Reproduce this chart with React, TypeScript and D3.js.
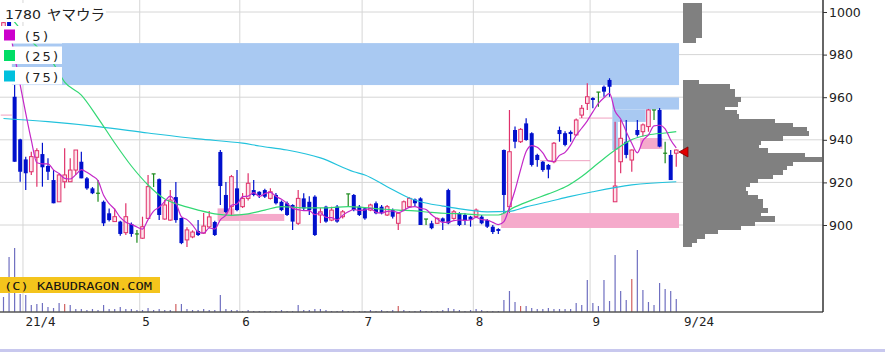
import React, { useEffect, useRef } from "react";
import * as d3 from "d3";

// trading days, 2021/3/26 - 2021/9/24
const dates = [
  "3/26", "3/29", "3/30", "3/31",
  "4/1", "4/2", "4/5", "4/6", "4/7", "4/8", "4/9", "4/12", "4/13", "4/14", "4/15", "4/16", "4/19", "4/20", "4/21", "4/22", "4/23", "4/26", "4/27", "4/28", "4/30",
  "5/6", "5/7", "5/10", "5/11", "5/12", "5/13", "5/14", "5/17", "5/18", "5/19", "5/20", "5/21", "5/24", "5/25", "5/26", "5/27", "5/28", "5/31",
  "6/1", "6/2", "6/3", "6/4", "6/7", "6/8", "6/9", "6/10", "6/11", "6/14", "6/15", "6/16", "6/17", "6/18", "6/21", "6/22", "6/23", "6/24", "6/25", "6/28", "6/29", "6/30",
  "7/1", "7/2", "7/5", "7/6", "7/7", "7/8", "7/9", "7/12", "7/13", "7/14", "7/15", "7/16", "7/19", "7/20", "7/21", "7/26", "7/27", "7/28", "7/29", "7/30",
  "8/2", "8/3", "8/4", "8/5", "8/6", "8/10", "8/11", "8/12", "8/13", "8/16", "8/17", "8/18", "8/19", "8/20", "8/23", "8/24", "8/25", "8/26", "8/27", "8/30", "8/31",
  "9/1", "9/2", "9/3", "9/6", "9/7", "9/8", "9/9", "9/10", "9/13", "9/14", "9/15", "9/16", "9/17", "9/21", "9/22", "9/24",
];

// open, high, low, close
const ohlc: [number, number, number, number][] = [
  [993, 996, 992, 995], [1001, 1004, 985.5, 988], [960.2, 965.7, 929.7, 929.7], [940.2, 940.5, 920.3, 925],
  [930.8, 932.1, 916.4, 924.3], [925, 934.4, 923.5, 932.1], [931.8, 936, 918, 934.9], [933.3, 938.6, 918, 927.1],
  [927.7, 931.3, 921.1, 925], [921.1, 925.8, 910.2, 910.2], [910.9, 924, 910.9, 923.5], [920.3, 936, 917.2, 923.5],
  [920.3, 931.3, 920.3, 925.8], [925.8, 935.2, 923.5, 935.2], [929.7, 934.4, 921.9, 921.9], [921.9, 922.5, 916.5, 917.2],
  [917.2, 917.8, 914.5, 914.9], [914.9, 921.1, 910.9, 914.9], [910.9, 911.5, 899.5, 900.8], [905.5, 907.8, 901.6, 902.3],
  [901.6, 907.8, 901.6, 903.9], [901.6, 902, 895, 895.8], [896.4, 910.2, 895.3, 903.9], [900.5, 901.2, 894.5, 895.8],
  [895.8, 897.7, 891.7, 895.8],
  [893.8, 903.9, 893.5, 899.2], [903.1, 923.5, 903.1, 918], [924, 924, 917.8, 924], [921.5, 921.8, 902.3, 904.7],
  [902.8, 911.7, 902.5, 909.4], [902.3, 916.4, 902, 911.7], [913.1, 920.2, 901, 902.3], [903.3, 903.5, 891, 891.5],
  [893, 899, 889.7, 897.7], [894.4, 897.5, 893.8, 896.7], [897.2, 902.3, 894.8, 895.3], [896.2, 905.6, 895.8, 899.5],
  [899.1, 906.6, 898.6, 903.8], [901.4, 902, 894.8, 895.3], [934.3, 935.2, 909.4, 918.3], [914.1, 920.2, 905.5, 906.1],
  [908.6, 923.5, 904.2, 922.7], [917.2, 925.8, 906.5, 907],
  [908.6, 915, 908, 912.5], [912.5, 924.3, 911.5, 919.6], [916.4, 921.1, 913.5, 914.1], [915.6, 915.8, 912.7, 914.1],
  [916.4, 917, 912.7, 913.3], [912.5, 917.2, 912, 915.6], [914.1, 915, 909.6, 910.2], [910.9, 911.5, 906.5, 907],
  [910.2, 911, 904.2, 904.7], [909.4, 909.8, 897.7, 901.6], [900.8, 916.4, 900, 912.5], [912.5, 914.9, 907, 907.8],
  [910.9, 913.5, 904.7, 907], [913.3, 914, 894.8, 895.3], [904.7, 908, 900.9, 906.2], [908.6, 909, 901, 901.6],
  [902.3, 908.6, 901.8, 907], [908.6, 909.4, 901, 901.6], [903.9, 907, 903, 906.2], [914.6, 914.6, 908.6, 914.6],
  [914.1, 914.6, 906.5, 907], [908.6, 909.4, 904.2, 904.7],
  [907.8, 908.5, 902.5, 903.1], [907, 910, 906.5, 909.4], [910.2, 911, 905, 905.5], [908.6, 909.4, 905, 905.5],
  [904.7, 909.4, 904.2, 908.6], [907, 907.8, 903.1, 903.9], [900.8, 906, 897.7, 905.5], [907, 911.5, 906.5, 910.9],
  [908.6, 913, 908, 912.5], [912, 912.5, 908.9, 910.2], [912.5, 913, 900, 900], [902.8, 902.8, 900, 902.8],
  [900.8, 902, 898, 898.5], [900.8, 903.5, 900.5, 903.1], [903.1, 903.5, 897.7, 901.6], [916.4, 917, 900.4, 900.8],
  [903.1, 907, 902.5, 906.2], [905.5, 906, 899.5, 900], [904.7, 905.5, 900, 902.3], [903.9, 904.3, 899.2, 902.5],
  [903.9, 907.8, 903.5, 907], [903.9, 904.7, 900.4, 900.8], [902.3, 902.8, 898.6, 899.2], [899.2, 900, 895.8, 896.7],
  [898.1, 898.5, 895.8, 897.2], [935.2, 935.5, 905.5, 914.1], [908.6, 954, 905.6, 934.4], [944.6, 946.2, 936, 939.1],
  [939.1, 945.5, 938.5, 944.9], [947.7, 950.1, 939.5, 939.9], [943.1, 943.5, 927.5, 928.2], [932.9, 933.5, 927.4, 930.5],
  [929.7, 930, 925, 925.8], [928.2, 928.6, 921.9, 926], [929.7, 939, 929, 938.4], [944.6, 946.2, 939.1, 942.7],
  [943.1, 944, 937, 937.6], [943.7, 944.4, 939.1, 942.7], [942.3, 950, 941.8, 949.3], [951.6, 956.3, 950.2, 954.8],
  [957.1, 966.5, 954, 960.2],
  [959.6, 960, 954.8, 958.7], [962.4, 962.4, 955.5, 962.4], [964.9, 965.5, 960.2, 962.6], [968.1, 968.9, 960.2, 964.9],
  [910.9, 948.5, 910.9, 918.3], [929.7, 949.3, 924.3, 940.7], [939.1, 949.3, 931.3, 932.9], [930.5, 935.5, 925, 935.2],
  [944.6, 949.3, 941.5, 942.3], [943.8, 947.7, 941.5, 947], [946.2, 954.5, 943.8, 954], [954, 954, 949.3, 954],
  [954, 954.9, 936.5, 936.8], [933.7, 939.1, 929, 933.7], [932.9, 935.2, 921.1, 921.1], [933.7, 935.5, 927.4, 935.2],
];

const volumes = [
  15, 55, 64, 18, 17, 7, 8, 9, 5, 4, 9, 8, 7, 3, 3, 2, 3, 2, 7, 3, 3, 5, 3, 3, 2,
  2, 4, 2, 3, 2, 2, 8, 8, 3, 2, 2, 3, 2, 2, 17, 3, 2, 2,
  1, 2, 1, 1, 1, 1, 1, 2, 1, 1, 7, 2, 2, 3, 3, 2, 1, 1, 2, 1, 1, 1,
  1, 2, 1, 2, 1, 2, 6, 2, 1, 1, 2, 1, 1, 1, 2, 4, 3, 2, 1, 2,
  3, 2, 1, 1, 1, 12, 21, 10, 6, 6, 4, 3, 3, 4, 3, 3, 3, 3, 9, 7, 32,
  9, 6, 32, 11, 57, 21, 12, 33, 62, 22, 10, 7, 29, 23, 21, 13,
];
const redVolumeDays = ["4/12", "5/14", "7/9", "8/13", "9/10"];

const priorCloses = [992, 990, 992, 991];

const ma25: [string, number][] = [
  ["3/26", 1000], ["3/29", 998], ["4/1", 989], ["4/6", 981.2], ["4/8", 975.6], ["4/12", 967.1],
  ["4/15", 961], ["4/20", 950.2], ["4/23", 938.5], ["4/28", 927.7], ["5/7", 918.8], ["5/12", 912.2],
  ["5/17", 909.2], ["5/20", 907], ["5/25", 905.2], ["5/28", 904.5], ["6/2", 905.2], ["6/7", 907],
  ["6/10", 908.6], ["6/15", 908.2], ["6/18", 908], ["6/23", 908.2], ["6/28", 908.6], ["7/1", 908.2],
  ["7/6", 907.5], ["7/9", 907], ["7/14", 906.6], ["7/19", 905.9], ["7/26", 905.4], ["7/29", 905.2],
  ["8/3", 904.7], ["8/6", 904.7], ["8/12", 908.5], ["8/17", 911.7], ["8/20", 914.6], ["8/25", 917.8],
  ["8/30", 922.8], ["9/2", 929.1], ["9/7", 935.2], ["9/10", 940.1], ["9/15", 942.3], ["9/21", 943.2],
  ["9/24", 943.8],
];

const ma75: [string, number][] = [
  ["3/26", 950], ["4/7", 948.5], ["4/20", 946.2], ["5/7", 943.2], ["5/20", 940.4], ["6/1", 938.4],
  ["6/4", 937.1], ["6/11", 935.2], ["6/21", 931.5], ["6/29", 925], ["7/1", 923.5], ["7/7", 918],
  ["7/13", 912.7], ["7/15", 910.9], ["7/21", 908.9], ["7/27", 908], ["8/4", 906.2], ["8/11", 906.4],
  ["8/16", 908.5], ["8/20", 910.9], ["8/26", 913.4], ["9/1", 915.6], ["9/10", 918.8], ["9/24", 920.3],
];

// gap windows
const blueZones = [
  { from: "3/30", to: "9/24", lo: 965.7, hi: 985.4 },
  { from: "9/7", to: "9/24", lo: 954.2, hi: 959.9 },
  { from: "9/7", to: "9/14", lo: 948.4, hi: 954.2 },
  { from: "9/7", to: "9/7", lo: 935.2, hi: 948.4 },
];
const pinkZones = [
  { from: "8/10", to: "9/24", lo: 898.6, hi: 905.6 },
  { from: "9/14", to: "9/17", lo: 935.7, hi: 940.8 },
  { from: "5/26", to: "6/10", lo: 901.9, hi: 905.2 },
  { from: "5/26", to: "5/28", lo: 905.2, hi: 907.8 },
];
const pinkLines = [
  { from: "3/26", to: "3/29", price: 951.6 },
  { from: "8/19", to: "8/31", price: 930.2 },
  { from: "8/30", to: "9/6", price: 950.2 },
];

// price-by-volume, 2 yen bins (lower bound)
const profilePrices = [
  1002, 1000, 998, 996, 994, 992, 990, 988, 986,
  966, 964, 962, 960, 958, 956, 954, 952, 950, 948, 946, 944, 942, 940, 938, 936, 934, 932, 930, 928,
  926, 924, 922, 920, 918, 916, 914, 912, 910, 908, 906, 904, 902, 900, 898, 896, 894, 892, 890,
];
const profileVolumes = [
  19, 19, 19, 19, 19, 19, 19, 19, 13,
  16, 47, 52, 52, 58, 55, 42, 54, 56, 92, 110, 124, 126, 100, 78, 76, 85, 122, 139, 110,
  104, 100, 90, 75, 67, 63, 65, 75, 80, 80, 85, 78, 92, 72, 58, 35, 22, 14, 9,
];

const priceTicks = [900, 920, 940, 960, 980, 1000];
const monthTicks: [string, string][] = [
  ["4/1", "21/4"], ["5/6", "5"], ["6/1", "6"], ["7/1", "7"], ["8/2", "8"], ["9/1", "9"],
];
const lastPrice = 934.3;
const legendItems: [string, string][] = [
  ["(5)", "#cc00cc"], ["(25)", "#00dd66"], ["(75)", "#00c0dd"],
];

const App = () => {
  const ref = useRef<SVGSVGElement>(null);

  useEffect(() => {
    const width = 885;
    const height = 355;
    const plotRight = 823;
    const baseY = 312;

    const svg = d3.select(ref.current);
    svg.selectAll("*").remove();
    svg.attr("width", width).attr("height", height);

    const x = d3.scaleBand().domain(dates).range([0.72, 679.04]);
    const bw = x.bandwidth();
    const cx = (d: string) => (x(d) as number) + bw / 2;
    const y = d3.scaleLinear().domain([900, 1000]).range([225, 12]);
    const yVol = d3.scaleLinear().domain([0, 70]).range([baseY, baseY - 70]);
    const xProf = d3.scaleLinear().domain([0, 140]).range([683, 823]);

    svg.append("rect").attr("width", width).attr("height", height).attr("fill", "#fff");

    // grid
    svg
      .append("g")
      .selectAll("line")
      .data(priceTicks)
      .join("line")
      .attr("x1", 0)
      .attr("x2", plotRight)
      .attr("y1", (d) => y(d))
      .attr("y2", (d) => y(d))
      .attr("stroke", "#d6d6d6");
    svg
      .append("g")
      .selectAll("line")
      .data(monthTicks)
      .join("line")
      .attr("x1", (d) => x(d[0]) as number)
      .attr("x2", (d) => x(d[0]) as number)
      .attr("y1", 0)
      .attr("y2", baseY)
      .attr("stroke", "#d6d6d6");

    // gap zones
    const zone = (data, fill) =>
      svg
        .append("g")
        .selectAll("rect")
        .data(data)
        .join("rect")
        .attr("x", (d: any) => x(d.from) as number)
        .attr("width", (d: any) => (x(d.to) as number) + bw - (x(d.from) as number))
        .attr("y", (d: any) => y(d.hi))
        .attr("height", (d: any) => y(d.lo) - y(d.hi))
        .attr("fill", fill);
    zone(blueZones, "#a9c9f2");
    zone(pinkZones, "#f5aacb");

    svg
      .append("g")
      .selectAll("line")
      .data(pinkLines)
      .join("line")
      .attr("x1", (d) => x(d.from) as number)
      .attr("x2", (d) => (x(d.to) as number) + bw)
      .attr("y1", (d) => y(d.price))
      .attr("y2", (d) => y(d.price))
      .attr("stroke", "#f0a0c0");

    // volume
    svg
      .append("g")
      .selectAll("line")
      .data(dates)
      .join("line")
      .attr("x1", cx)
      .attr("x2", cx)
      .attr("y1", baseY)
      .attr("y2", (d, i) => yVol(volumes[i]))
      .attr("stroke", (d) => (redVolumeDays.includes(d) ? "#d06060" : "#6f6fc0"))
      .attr("stroke-width", 1.2);

    // candles
    const blue = "#0010cc";
    const red = "#e0306a";
    const green = "#1a8a1a";
    const candles = svg.append("g");
    dates.forEach((d, i) => {
      const [o, h, l, c] = ohlc[i];
      const col = c > o ? red : c < o ? blue : green;
      const px = cx(d);
      candles
        .append("line")
        .attr("x1", px)
        .attr("x2", px)
        .attr("y1", y(h))
        .attr("y2", y(l))
        .attr("stroke", col)
        .attr("stroke-width", 1.2);
      if (c === o) {
        candles
          .append("line")
          .attr("x1", px - 2)
          .attr("x2", px + 2)
          .attr("y1", y(o))
          .attr("y2", y(o))
          .attr("stroke", col)
          .attr("stroke-width", 1.2);
      } else {
        const top = y(Math.max(o, c));
        const hgt = Math.max(1.5, y(Math.min(o, c)) - top);
        candles
          .append("rect")
          .attr("x", c > o ? px - 1.8 : px - 2)
          .attr("width", c > o ? 3.6 : 4)
          .attr("y", top)
          .attr("height", hgt)
          .attr("fill", c > o ? "#fde2ea" : blue)
          .attr("stroke", c > o ? red : "none")
          .attr("stroke-width", 1);
      }
    });

    // moving averages
    const all = priorCloses.concat(ohlc.map((d) => d[3]));
    const ma5 = dates.map((d, i) => [d, d3.mean(all.slice(i, i + 5)) as number] as [string, number]);
    const line = d3
      .line<[string, number]>()
      .x((d) => cx(d[0]))
      .y((d) => y(d[1]))
      .curve(d3.curveMonotoneX);
    [
      [ma75, "#22c2dc"],
      [ma25, "#33d874"],
      [ma5, "#c428c8"],
    ].forEach(([data, col]: any) => {
      svg
        .append("path")
        .attr("d", line(data))
        .attr("fill", "none")
        .attr("stroke", col)
        .attr("stroke-width", 1.2);
    });

    // volume profile
    svg
      .append("g")
      .attr("shape-rendering", "crispEdges")
      .selectAll("rect")
      .data(profilePrices)
      .join("rect")
      .attr("x", xProf(0))
      .attr("y", (p) => y(p + 2))
      .attr("height", (p) => y(p) - y(p + 2) + 0.8)
      .attr("width", (p, i) => xProf(profileVolumes[i]) - xProf(0))
      .attr("fill", "#808080");

    // last price marker
    const ty = y(lastPrice);
    svg
      .append("path")
      .attr("d", `M679,${ty} L688,${ty - 5} L688,${ty + 5} Z`)
      .attr("fill", "#e00000")
      .attr("stroke", "#800000")
      .attr("stroke-width", 0.8);

    // axes
    svg
      .append("line")
      .attr("x1", 0)
      .attr("x2", plotRight)
      .attr("y1", baseY)
      .attr("y2", baseY)
      .attr("stroke", "#555")
      .attr("stroke-width", 1.5);
    svg
      .append("line")
      .attr("x1", plotRight)
      .attr("x2", plotRight)
      .attr("y1", 0)
      .attr("y2", baseY)
      .attr("stroke", "#333")
      .attr("stroke-width", 1.5);

    const yAxis = d3
      .axisRight(y)
      .tickValues(priceTicks)
      .tickFormat(d3.format("d"))
      .tickSize(4)
      .tickPadding(2);
    svg
      .append("g")
      .attr("transform", `translate(${plotRight},0)`)
      .call(yAxis)
      .call((g) => g.select(".domain").remove())
      .call((g) => g.selectAll(".tick line").attr("stroke", "#333"))
      .selectAll("text")
      .attr("font-family", "DejaVu Sans, sans-serif")
      .attr("font-size", 12.5)
      .attr("fill", "#222");

    const xLabels = svg
      .append("g")
      .attr("font-family", "DejaVu Sans Mono, monospace")
      .attr("font-size", 12.5)
      .attr("fill", "#222");
    monthTicks.forEach(([d, label]) => {
      xLabels
        .append("text")
        .attr("x", (x(d) as number) + 2.5)
        .attr("y", 326)
        .text(label);
    });
    const lastDay = dates[dates.length - 1];
    xLabels
      .append("text")
      .attr("x", (x(lastDay) as number) + bw + 5)
      .attr("y", 326)
      .text(lastDay);

    // copyright tag
    svg.append("rect").attr("x", 0).attr("y", 277).attr("width", 160).attr("height", 16).attr("fill", "#f4c41c");
    svg
      .append("text")
      .attr("x", 4)
      .attr("y", 289.5)
      .attr("font-family", "DejaVu Sans Mono, monospace")
      .attr("font-size", 11)
      .attr("textLength", 148)
      .attr("lengthAdjust", "spacingAndGlyphs")
      .attr("fill", "#111")
      .text("(C) KABUDRAGON.COM");

    // title + legend
    svg.append("rect").attr("x", 0).attr("y", 3).attr("width", 106).attr("height", 19).attr("fill", "#fff");
    svg
      .append("text")
      .attr("x", 5)
      .attr("y", 18.5)
      .attr("font-family", "DejaVu Sans, sans-serif")
      .attr("font-size", 11.5)
      .attr("textLength", 36)
      .attr("lengthAdjust", "spacingAndGlyphs")
      .attr("fill", "#222")
      .text("1780");
    svg
      .append("text")
      .attr("x", 47)
      .attr("y", 20)
      .attr("font-family", "Noto Sans CJK JP, sans-serif")
      .attr("font-size", 14.5)
      .attr("fill", "#222")
      .text("ヤマウラ");

    legendItems.forEach(([label, col], i) => {
      const top = 26 + i * 20.5;
      svg.append("rect").attr("x", 0).attr("y", top).attr("width", 62).attr("height", 17.5).attr("fill", "#fff");
      svg.append("rect").attr("x", 4).attr("y", top + 3.5).attr("width", 11).attr("height", 11).attr("fill", col);
      svg
        .append("text")
        .attr("x", 25)
        .attr("y", top + 14.5)
        .attr("font-family", "DejaVu Sans, sans-serif")
        .attr("font-size", 13)
        .attr("textLength", label.length > 3 ? 33 : 23)
        .attr("lengthAdjust", "spacing")
        .attr("fill", "#222")
        .text(label);
    });

    // page separator
    svg.append("rect").attr("x", 0).attr("y", 349).attr("width", width).attr("height", 3).attr("fill", "#c8c8ee");
  }, []);

  return <svg ref={ref} style={{ position: "absolute", left: 0, top: 0 }}></svg>;
};

export default App;
